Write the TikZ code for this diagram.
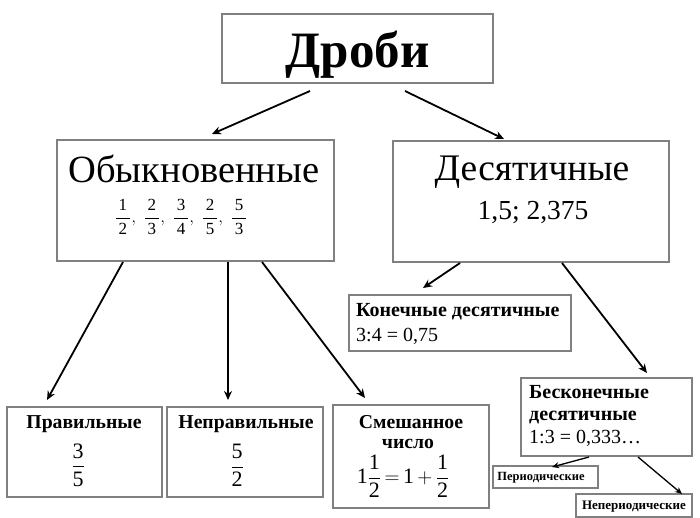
\documentclass[tikz,border=0pt]{standalone}
\usepackage{amsmath}
\usepackage{fontspec}
\setmainfont{Liberation Serif}
\usetikzlibrary{arrows.meta}
\tikzset{
  box/.style={draw=black!50, line width=1.1pt, fill=white, inner sep=0pt},
  arr/.style={line width=1.8pt, -{Stealth[length=9pt,width=8pt]}},
  sarr/.style={line width=1.3pt, -{Stealth[length=7pt,width=6pt]}},
  txt/.style={inner sep=0pt, align=center},
}
\newcommand{\fz}[1]{\fontsize{#1}{1.15\dimexpr #1pt\relax}\selectfont}
\newcommand{\fr}[2]{\dfrac{\text{#1}}{\text{#2}}}
\newcommand{\frp}[2]{\dfrac{\,\text{#1}\,}{\,\text{#2}\,}}
\begin{document}
\begin{tikzpicture}[x=1pt,y=-1pt]
\useasboundingbox (0,0) rectangle (700,518);
% boxes
\node[box, minimum width=271pt, minimum height=69pt] (drobi) at (357.5,48.5) {};
\node[box, minimum width=277pt, minimum height=121pt] (obyk) at (195.5,200.5) {};
\node[box, minimum width=276pt, minimum height=121pt] (desyat) at (531,201.5) {};
\node[box, minimum width=222pt, minimum height=56pt] (kon) at (460,323) {};
\node[box, minimum width=171pt, minimum height=78pt] (beskon) at (606.5,417) {};
\node[box, minimum width=105pt, minimum height=22pt] (period) at (545.5,477) {};
\node[box, minimum width=116pt, minimum height=23pt] (neperiod) at (634,505.5) {};
\node[box, minimum width=155pt, minimum height=90pt] (prav) at (84.5,452) {};
\node[box, minimum width=156pt, minimum height=90pt] (neprav) at (245,452) {};
\node[box, minimum width=156pt, minimum height=103pt] (smesh) at (411,456.5) {};
% texts
\node[txt, font=\fz{51}\bfseries] (t-drobi) at (357.5,55) {Дроби};
\node[txt, font=\fz{38.5}] (t-obyk) at (194,169) {Обыкновенные};
\node[txt, font=\fz{17}] (t-obykf) at (181,217) {$\frp{1}{2},\;\frp{2}{3},\;\frp{3}{4},\;\frp{2}{5},\;\frp{5}{3}$};
\node[txt, font=\fz{37.5}] (t-desyat) at (532,172) {Десятичные};
\node[txt, font=\fz{27.5}] (t-desyatx) at (533,213) {1,5; 2,375};
\node[txt, anchor=west, font=\fz{20}\bfseries] (t-kon) at (356,312) {Конечные десятичные};
\node[txt, anchor=west, font=\fz{20}] (t-konx) at (356,336) {3:4 = 0,75};
\node[txt, anchor=north west, align=left, font=\fontsize{20}{22.5}\selectfont] (t-beskon) at (529,385) {\textbf{Бесконечные}\\\textbf{десятичные}\\1:3 = 0,333…};
\node[txt, font=\fz{12.5}\bfseries] (t-period) at (541,478) {Периодические};
\node[txt, font=\fz{13}\bfseries] (t-neperiod) at (634,507) {Непериодические};
\node[txt, font=\fz{19.7}\bfseries] (t-prav) at (84,424) {Правильные};
\node[txt, font=\fz{22}] (t-pravf) at (78,465) {$\fr{3}{5}$};
\node[txt, font=\fz{19.7}\bfseries] (t-neprav) at (246,424) {Неправильные};
\node[txt, font=\fz{22}] (t-nepravf) at (237,465) {$\fr{5}{2}$};
\node[txt, font=\fz{19.7}\bfseries] (t-smesh) at (411,422) {Смешанное};
\node[txt, font=\fz{19.7}\bfseries] (t-smesh2) at (408,444) {число};
\node[txt, font=\fz{22}] (t-smeshf) at (403,476) {$\text{1}\fr{1}{2}\,{=}\,\text{1}\,{+}\,\fr{1}{2}$};
% connector ends
\coordinate (s1) at (310,91);
\coordinate (e1) at (212,134);
\coordinate (s2) at (405,91);
\coordinate (e2) at (504,139);
\coordinate (s3) at (123,262);
\coordinate (e3) at (47,400);
\coordinate (s4) at (228,262);
\coordinate (e4) at (228,400);
\coordinate (s5) at (262,262);
\coordinate (e5) at (365,398);
\coordinate (s6) at (460,263);
\coordinate (e6) at (423,288);
\coordinate (s7) at (562,263);
\coordinate (e7) at (647,373);
\coordinate (s8) at (589,457);
\coordinate (e8) at (552,467);
\coordinate (s9) at (638,457);
\coordinate (e9) at (682,494);
% connectors
\draw[arr] (s1) -- (e1);
\draw[arr] (s2) -- (e2);
\draw[arr] (s3) -- (e3);
\draw[arr] (s4) -- (e4);
\draw[arr] (s5) -- (e5);
\draw[arr] (s6) -- (e6);
\draw[arr] (s7) -- (e7);
\draw[sarr] (s8) -- (e8);
\draw[sarr] (s9) -- (e9);
\end{tikzpicture}
\end{document}
